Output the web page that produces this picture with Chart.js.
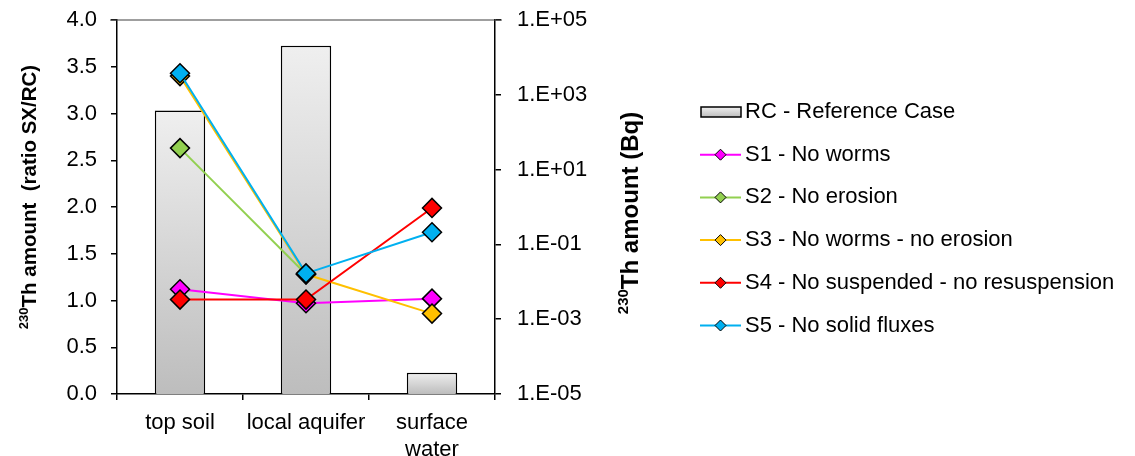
<!DOCTYPE html>
<html>
<head>
<meta charset="utf-8">
<script src="https://cdn.jsdelivr.net/npm/chart.js@4.4.1/dist/chart.umd.min.js"></script>
<style>
    html, body { margin: 0; padding: 0; background: #fff; }
    #wrap { width: 1135px; height: 456px; }
</style>
</head>
<body>
<div id="wrap"><canvas id="thChart" width="1135" height="456"></canvas></div>
<script>
// Compartments
const categories = ['top soil', 'local aquifer', ['surface', 'water']];

// Reference case, 230Th amount in Bq (right log axis)
const referenceCase = [380, 20400, 3.7e-5];

// Scenario ratios SX/RC (left axis)
const s1NoWorms = [1.12, 0.97, 1.02];
const s2NoErosion = [2.63, 1.28, null];
const s3NoWormsNoErosion = [3.40, 1.28, 0.86];
const s4NoSuspended = [1.01, 1.01, 1.99];
const s5NoSolidFluxes = [3.43, 1.29, 1.73];

// Tick labels
const ratioTicks = [0, 0.5, 1, 1.5, 2, 2.5, 3, 3.5, 4];
const bqTicks = [1e-5, 1e-3, 1e-1, 1e1, 1e3, 1e5];

const FONT = '"Liberation Sans", Arial, sans-serif';

function sciLabel(v) {
    const exp = Math.round(Math.log10(v));
    const sign = exp < 0 ? '-' : '+';
    return '1.E' + sign + String(Math.abs(exp)).padStart(2, '0');
}

function barGradient(ctx, top, bottom) {
    const g = ctx.createLinearGradient(0, top, 0, bottom);
    g.addColorStop(0, '#efefef');
    g.addColorStop(1, '#bdbdbd');
    return g;
}

// Rotated axis titles with superscript "230"
function drawTitle(ctx, x, y, main, size) {
    const supSize = Math.round(size * 0.64);
    ctx.save();
    ctx.translate(x, y);
    ctx.rotate(-Math.PI / 2);
    ctx.fillStyle = '#000';
    ctx.textBaseline = 'middle';
    ctx.font = 'bold ' + supSize + 'px ' + FONT;
    const supW = ctx.measureText('230').width;
    ctx.font = 'bold ' + size + 'px ' + FONT;
    const mainW = ctx.measureText(main).width;
    const start = -(supW + mainW) / 2;
    ctx.textAlign = 'left';
    ctx.fillText(main, start + supW, 0);
    ctx.font = 'bold ' + supSize + 'px ' + FONT;
    ctx.fillText('230', start, -size * 0.28);
    ctx.restore();
}

const framePlugin = {
    id: 'frameAndTitles',
    afterDraw(chart) {
        const c = chart.ctx;
        const area = chart.chartArea;
        // thin top border of the plot area
        c.save();
        c.strokeStyle = '#404040';
        c.lineWidth = 1.2;
        c.beginPath();
        c.moveTo(area.left - 7, area.top);
        c.lineTo(area.right + 7, area.top);
        c.stroke();
        c.restore();
        drawTitle(c, 30, 197, 'Th amount  (ratio SX/RC)', 20.5);
        drawTitle(c, 631, 213, 'Th amount (Bq)', 24);
    }
};

const legendPlugin = {
    id: 'sideLegend',
    afterDraw(chart) {
        const ctx = chart.ctx;
        const x0 = 700, y0 = 112, gap = 42.7;
        ctx.save();
        chart.data.datasets.forEach((ds, i) => {
            const y = y0 + i * gap;
            if (ds.type === 'bar') {
                ctx.fillStyle = barGradient(ctx, y - 5, y + 5);
                ctx.fillRect(x0 + 1, y - 5, 40, 10);
                ctx.strokeStyle = '#000';
                ctx.lineWidth = 1.5;
                ctx.strokeRect(x0 + 1, y - 5, 40, 10);
            } else {
                ctx.strokeStyle = ds.borderColor;
                ctx.lineWidth = 2;
                ctx.beginPath();
                ctx.moveTo(x0, y);
                ctx.lineTo(x0 + 41, y);
                ctx.stroke();
                ctx.beginPath();
                ctx.moveTo(x0 + 15, y);
                ctx.lineTo(x0 + 20.5, y - 5.5);
                ctx.lineTo(x0 + 26, y);
                ctx.lineTo(x0 + 20.5, y + 5.5);
                ctx.closePath();
                ctx.fillStyle = ds.backgroundColor;
                ctx.fill();
                ctx.strokeStyle = '#000';
                ctx.lineWidth = 1;
                ctx.stroke();
            }
            ctx.fillStyle = '#000';
            ctx.font = '22px ' + FONT;
            ctx.textBaseline = 'middle';
            ctx.textAlign = 'left';
            ctx.fillText(ds.label, x0 + 45, y);
        });
        ctx.restore();
    }
};

function lineSet(label, data, color, order) {
    return {
        type: 'line',
        label: label,
        data: data,
        yAxisID: 'y',
        borderColor: color,
        backgroundColor: color,
        borderWidth: 2,
        pointStyle: 'rectRot',
        pointRadius: 9.5,
        pointHoverRadius: 9.5,
        pointBorderColor: '#000',
        pointBorderWidth: 1.5,
        pointBackgroundColor: color,
        tension: 0,
        order: order
    };
}

// y axes: fixed width, no extra label overflow padding
function fitVertical(width) {
    return function(scale) {
        scale.width = width;
        scale.paddingTop = 0;
        scale.paddingBottom = 0;
    };
}

const ctx = document.getElementById('thChart');
new Chart(ctx, {
    data: {
        labels: categories,
        datasets: [
            {
                type: 'bar',
                label: 'RC - Reference Case',
                data: referenceCase,
                yAxisID: 'y2',
                backgroundColor: function(c) {
                    const chart = c.chart;
                    if (!chart.chartArea || c.raw == null) return '#d0d0d0';
                    const top = chart.scales.y2.getPixelForValue(c.raw);
                    return barGradient(chart.ctx, top, chart.chartArea.bottom);
                },
                borderColor: '#000',
                borderWidth: 1.5,
                barPercentage: 0.4,
                categoryPercentage: 1,
                order: 10
            },
            lineSet('S1 - No worms', s1NoWorms, '#ff00ff', 5),
            lineSet('S2 - No erosion', s2NoErosion, '#92d050', 4),
            lineSet('S3 - No worms - no erosion', s3NoWormsNoErosion, '#ffc000', 3),
            lineSet('S4 - No suspended - no resuspension', s4NoSuspended, '#ff0000', 2),
            lineSet('S5 - No solid fluxes', s5NoSolidFluxes, '#00b0f0', 1)
        ]
    },
    options: {
        responsive: false,
        animation: false,
        devicePixelRatio: 1,
        layout: {
            padding: { left: 0, right: 510, top: 20, bottom: 0 }
        },
        plugins: {
            legend: { display: false },
            tooltip: { enabled: false }
        },
        scales: {
            x: {
                offset: true,
                grid: {
                    offset: true,
                    drawOnChartArea: false,
                    tickLength: 6,
                    color: '#000',
                    lineWidth: 1.5
                },
                border: { display: true, color: '#000', width: 1.5 },
                ticks: {
                    color: '#000',
                    padding: 10,
                    maxRotation: 0,
                    font: { family: FONT, size: 22, lineHeight: 1.2 }
                },
                afterFit: function(scale) {
                    scale.height = 62;
                    scale.paddingLeft = 0;
                    scale.paddingRight = 0;
                }
            },
            y: {
                position: 'left',
                min: 0,
                max: 4,
                afterBuildTicks: function(scale) {
                    scale.ticks = ratioTicks.map(v => ({ value: v }));
                },
                grid: {
                    drawOnChartArea: false,
                    tickLength: 6,
                    color: '#000',
                    lineWidth: 1.5
                },
                border: { display: true, color: '#000', width: 1.5 },
                ticks: {
                    color: '#000',
                    padding: 14,
                    font: { family: FONT, size: 22 },
                    callback: function(v) { return Number(v).toFixed(1); }
                },
                afterFit: fitVertical(117)
            },
            y2: {
                type: 'logarithmic',
                position: 'right',
                min: 1e-5,
                max: 1e5,
                afterBuildTicks: function(scale) {
                    scale.ticks = bqTicks.map(v => ({ value: v }));
                },
                grid: {
                    drawOnChartArea: false,
                    tickLength: 6,
                    color: '#000',
                    lineWidth: 1.5
                },
                border: { display: true, color: '#000', width: 1.5 },
                ticks: {
                    color: '#000',
                    padding: 16,
                    font: { family: FONT, size: 22 },
                    callback: function(v) { return sciLabel(v); }
                },
                afterFit: fitVertical(130)
            }
        }
    },
    plugins: [framePlugin, legendPlugin]
});
</script>
</body>
</html>
